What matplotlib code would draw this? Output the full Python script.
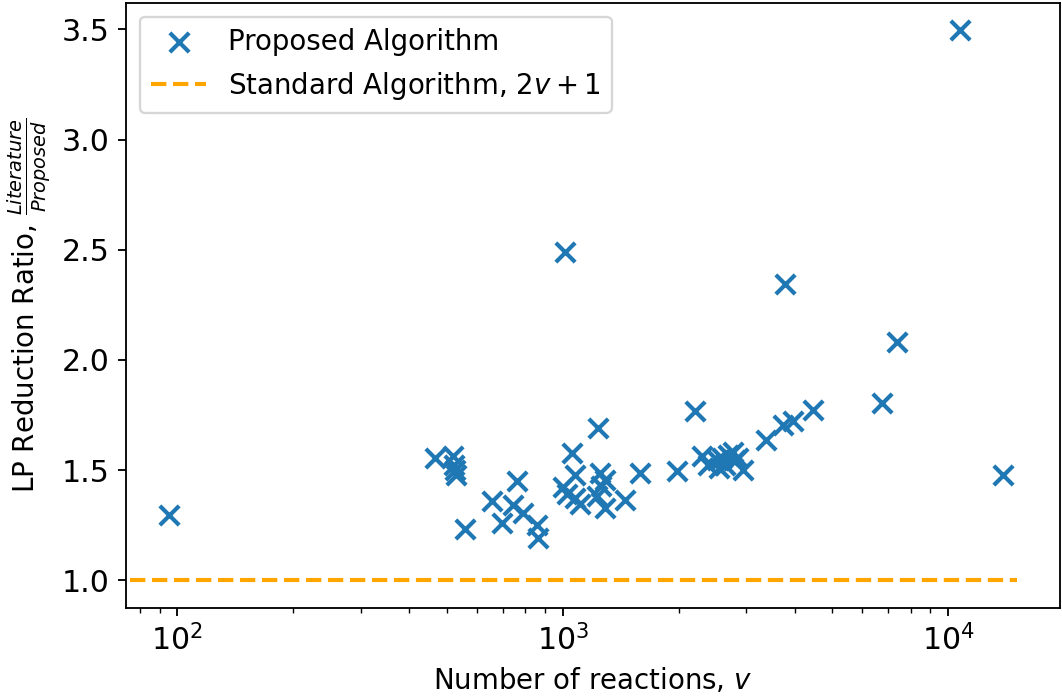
import matplotlib
matplotlib.use("Agg")
from matplotlib import pyplot as plt

# number of reactions v and LP reduction ratio
reactions = [95, 467, 520, 522, 525, 528, 558, 655, 695, 745, 760, 791, 857, 865,
             1002, 1013, 1026, 1055, 1077, 1077, 1110, 1225, 1236, 1252, 1262, 1288, 1288,
             1452, 1585, 1977, 2203, 2296, 2389, 2512, 2550, 2589, 2637, 2684, 2768,
             2800, 2850, 2946, 3381, 3735, 3776, 3963, 4470, 6730, 7360, 10740, 13870]
ratios = [1.298, 1.555, 1.562, 1.525, 1.50, 1.478, 1.233, 1.358, 1.260, 1.343, 1.449, 1.306, 1.252, 1.192,
          1.425, 2.489, 1.389, 1.578, 1.479, 1.375, 1.344, 1.381, 1.691, 1.487, 1.426, 1.456, 1.328,
          1.366, 1.487, 1.494, 1.766, 1.562, 1.524, 1.547, 1.51, 1.555, 1.525, 1.57, 1.583,
          1.547, 1.555, 1.50, 1.638, 1.706, 2.344, 1.721, 1.774, 1.804, 2.081, 3.496, 1.479]

line_x = [75.4, 15100]
line_y = [1.0, 1.0]

plt.rcParams["font.size"] = 12

fig, ax = plt.subplots(figsize=(1062 / 166, 698 / 166), dpi=166)
fig.subplots_adjust(left=0.1186, right=0.998, top=0.996, bottom=0.1294)

ax.scatter(reactions, ratios, marker="x", s=70, linewidths=1.8, label="Proposed Algorithm")
ax.plot(line_x, line_y, "--", color="orange", linewidth=1.8, label="Standard Algorithm, $2v + 1$")

ax.set_xscale("log")
ax.set_xlim(73.6, 19530)
ax.tick_params(labelsize=13)
ax.set_xlabel("Number of reactions, $v$")
ax.set_ylabel("LP Reduction Ratio, $\\frac{Literature}{Proposed}$")
ax.legend(loc="upper left")

fig.savefig("out.png")
